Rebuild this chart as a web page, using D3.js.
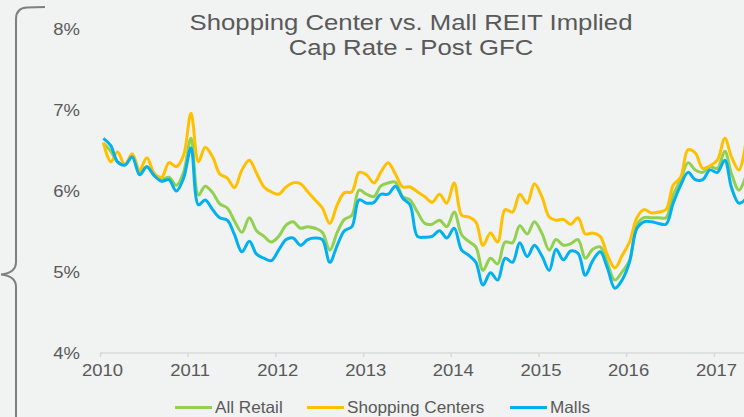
<!DOCTYPE html>
<html>
<head>
<meta charset="utf-8">
<script src="https://cdn.jsdelivr.net/npm/d3@7"></script>
<style>
  body { margin: 0; background: #f1f2f2; }
  svg { display: block; font-family: "Liberation Sans", Arial, sans-serif; }
</style>
</head>
<body>
<div class="mainviz"></div>
<script>
// monthly implied cap rates (%), Jan 2010 onward
var allRetail = [6.59,6.49,6.36,6.33,6.44,6.23,6.30,6.19,6.14,6.17,6.07,6.23,
  6.65,5.95,6.06,5.98,5.84,5.79,5.63,5.49,5.67,5.51,5.44,5.37,
  5.44,5.58,5.62,5.54,5.56,5.54,5.49,5.27,5.49,5.65,5.70,6.01,
  5.96,5.93,6.06,6.10,6.11,5.93,5.89,5.74,5.60,5.59,5.64,5.56,
  5.74,5.46,5.38,5.31,5.02,5.17,5.10,5.37,5.36,5.57,5.47,5.62,
  5.48,5.27,5.40,5.33,5.35,5.40,5.17,5.28,5.31,5.11,4.90,5.00,
  5.14,5.58,5.67,5.67,5.67,5.67,5.95,6.14,6.35,6.26,6.23,6.30,
  6.28,6.49,6.21,6.01,6.20];
var shoppingCenters = [6.60,6.36,6.48,6.32,6.46,6.26,6.41,6.22,6.17,6.35,6.30,6.44,
  6.96,6.36,6.54,6.42,6.21,6.16,6.04,6.26,6.38,6.22,6.05,5.99,
  5.96,6.05,6.10,6.09,5.99,5.89,5.79,5.60,5.83,5.98,5.99,6.23,
  6.20,6.10,6.23,6.35,6.21,6.05,6.05,5.99,5.93,5.86,5.96,5.85,
  6.10,5.70,5.68,5.62,5.33,5.48,5.37,5.77,5.74,5.96,5.85,6.09,
  5.93,5.68,5.64,5.65,5.59,5.67,5.47,5.48,5.44,5.21,5.05,5.20,
  5.37,5.67,5.77,5.73,5.74,5.77,6.07,6.17,6.51,6.47,6.28,6.31,
  6.38,6.65,6.42,6.26,6.63];
var malls = [6.65,6.56,6.36,6.32,6.42,6.20,6.30,6.19,6.12,6.14,6.00,6.16,
  6.53,5.83,5.89,5.77,5.67,5.64,5.46,5.25,5.38,5.22,5.17,5.14,
  5.27,5.40,5.42,5.33,5.40,5.42,5.40,5.12,5.33,5.51,5.56,5.89,
  5.85,5.86,5.96,5.96,6.06,5.91,5.83,5.44,5.43,5.44,5.51,5.42,
  5.54,5.27,5.21,5.12,4.84,4.99,4.90,5.17,5.12,5.36,5.19,5.33,
  5.20,5.02,5.28,5.15,5.26,5.23,4.96,5.14,5.25,5.05,4.80,4.90,
  5.12,5.54,5.62,5.62,5.60,5.59,5.85,6.07,6.23,6.14,6.14,6.26,
  6.23,6.38,6.04,5.85,5.91];
var seriesNames = ["All Retail", "Shopping Centers", "Malls"];
var seriesColors = ["#92d050", "#ffc000", "#00b0f0"];
var yTicks = [4, 5, 6, 7, 8];
var yearTicks = [2010, 2011, 2012, 2013, 2014, 2015, 2016, 2017];

var width = 744, height = 417;
var svg = d3.select(".mainviz").append("svg")
	.attr("width", width)
	.attr("height", height);

var x = d3.scaleTime()
	.domain([new Date(2010, 0, 1), new Date(2017, 0, 1)])
	.range([100, 714]);
var y = d3.scaleLinear()
	.domain([4, 8])
	.range([353, 29]);

var months = malls.map(function(d, i){ return new Date(2010, i, 15); });
var series = [allRetail, shoppingCenters, malls];

// left brace
svg.append("path")
	.attr("d", "M45,7 L27,7.5 Q16,8 16,19 L16,262 Q16,273 1,274.5 Q16,276 16,287 L16,420")
	.attr("fill", "none")
	.attr("stroke", "#7f7f7f")
	.attr("stroke-width", 2);

// title
var title = svg.append("g").attr("fill", "#595959").attr("font-size", 22);
title.append("text")
	.attr("text-anchor", "middle")
	.attr("transform", "translate(411,30) scale(1.17,1)")
	.text("Shopping Center vs. Mall REIT Implied");
title.append("text")
	.attr("text-anchor", "middle")
	.attr("transform", "translate(411,55) scale(1.17,1)")
	.text("Cap Rate - Post GFC");

// y axis (labels only)
var yAxis = d3.axisLeft(y).tickValues(yTicks).tickSize(0).tickPadding(18)
	.tickFormat(function(d){ return d + "%"; });
var gy = svg.append("g")
	.attr("transform", "translate(100,0)")
	.call(yAxis);
gy.select(".domain").remove();
gy.selectAll("text")
	.attr("fill", "#595959")
	.attr("font-size", 16.5)
	.attr("font-family", "Liberation Sans, Arial, sans-serif")
	.attr("transform", "scale(1.12,1)");

// x axis
var xAxis = d3.axisBottom(x)
	.tickValues(yearTicks.map(function(d){ return new Date(d, 0, 1); }))
	.tickSize(4).tickPadding(7)
	.tickFormat(d3.timeFormat("%Y"));
var gx = svg.append("g")
	.attr("transform", "translate(0,353)")
	.call(xAxis);
gx.select(".domain").remove();
gx.append("line")
	.attr("x1", x(new Date(2010, 0, 1))).attr("x2", width)
	.attr("stroke", "#d9d9d9").attr("stroke-width", 1.5);
gx.selectAll(".tick line").attr("stroke", "#d9d9d9").attr("stroke-width", 1.5);
gx.selectAll("text")
	.attr("fill", "#595959")
	.attr("font-size", 16.5)
	.attr("font-family", "Liberation Sans, Arial, sans-serif")
	.attr("transform", "translate(2,0) scale(1.12,1)");

// lines
var line = d3.line()
	.x(function(d, i){ return x(months[i]); })
	.y(function(d){ return y(d); })
	.curve(d3.curveCatmullRom.alpha(0.5));

series.forEach(function(s, k){
	svg.append("path")
		.attr("d", line(s))
		.attr("fill", "none")
		.attr("stroke", seriesColors[k])
		.attr("stroke-width", 3)
		.attr("stroke-linejoin", "round");
});

// legend
var legendX = [175, 307, 510];
var legend = svg.append("g");
seriesNames.forEach(function(name, k){
	legend.append("line")
		.attr("x1", legendX[k]).attr("x2", legendX[k] + 37)
		.attr("y1", 407.5).attr("y2", 407.5)
		.attr("stroke", seriesColors[k])
		.attr("stroke-width", 3);
	legend.append("text")
		.attr("transform", "translate(" + (legendX[k] + 40) + ",413) scale(1.04,1)")
		.attr("fill", "#595959")
		.attr("font-size", 16.5)
		.text(name);
});
</script>
</body>
</html>
